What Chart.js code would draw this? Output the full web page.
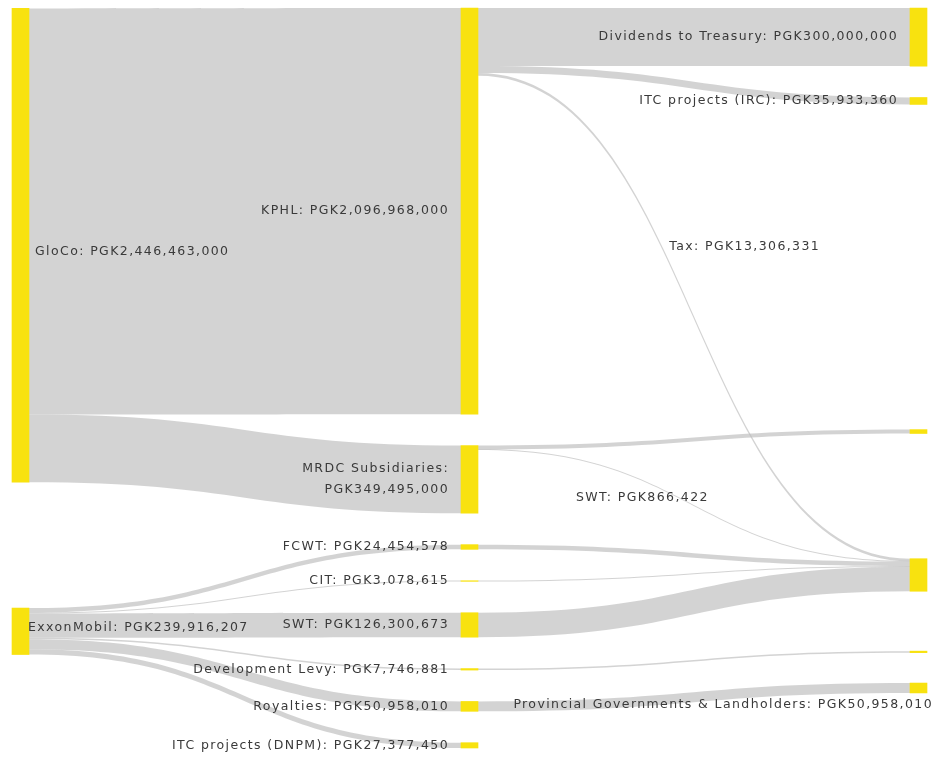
<!DOCTYPE html>
<html>
<head>
<meta charset="utf-8">
<script src="https://cdn.jsdelivr.net/npm/chart.js@4.4.1/dist/chart.umd.min.js"></script>
<style>
  html, body { margin: 0; background: #fff; }
  #wrap { width: 947px; height: 760px; }
</style>
</head>
<body>
<div id="wrap"><canvas id="sankey-chart"></canvas></div>
<script>
// nodes, in the order they are stacked inside each column
const nodeNames = [
  "GloCo", "ExxonMobil",
  "KPHL", "MRDC Subsidiaries", "FCWT", "CIT", "SWT", "Development Levy", "Royalties", "ITC projects (DNPM)",
  "Dividends to Treasury", "ITC projects (IRC)", "MRDC other", "IRC", "Development Levy recipients",
  "Provincial Governments & Landholders"
];
// nodes that carry no label in the picture
const unlabelled = ["MRDC other", "IRC", "Development Levy recipients"];

// flows (PGK)
const flowFrom = [
  "GloCo", "GloCo",
  "KPHL", "KPHL", "KPHL",
  "MRDC Subsidiaries", "MRDC Subsidiaries",
  "ExxonMobil", "ExxonMobil", "ExxonMobil", "ExxonMobil", "ExxonMobil", "ExxonMobil",
  "FCWT", "CIT", "SWT", "Development Levy", "Royalties"
];
const flowTo = [
  "KPHL", "MRDC Subsidiaries",
  "Dividends to Treasury", "ITC projects (IRC)", "IRC",
  "MRDC other", "IRC",
  "FCWT", "CIT", "SWT", "Development Levy", "Royalties", "ITC projects (DNPM)",
  "IRC", "IRC", "IRC", "Development Levy recipients", "Provincial Governments & Landholders"
];
const flowValues = [
  2096968000, 349495000,
  300000000, 35933360, 13306331,
  20000000, 866422,
  24454578, 3078615, 126300673, 7746881, 50958010, 27377450,
  24454578, 3078615, 126300673, 7746881, 50958010
];
// flows that carry their own label
const flowLabels = { 4: "Tax", 6: "SWT" };

const NODE_W = 17;
const NODE_PAD = 162e6;   // gap between nodes, in PGK units of the y scale
const NODE_COLOR = "#f8e20f";
const LINK_COLOR = "rgba(188,188,188,0.66)";
const TEXT_COLOR = "#3a3a3a";
const FONT = '12.5px "DejaVu Sans"';

// hand moves of some nodes after the automatic layout (PGK units, like the original's dragged nodes)
const nodeMoves = {
  "GloCo": -20e6,
  "ExxonMobil": -88e6,
  "IRC": 23e6,
  "Development Levy recipients": -88e6,
  "Provincial Governments & Landholders": -93e6
};

const money = v => "PGK" + v.toLocaleString("en-US");

// ---- sankey layout (same relaxation as d3-sankey, left aligned) ----
function sankeyLayout() {
  const nodes = nodeNames.map((name, index) => ({ name, index, sourceLinks: [], targetLinks: [], layer: 0 }));
  const byName = {};
  nodes.forEach(n => byName[n.name] = n);
  const links = flowValues.map((value, index) => ({
    index, value, source: byName[flowFrom[index]], target: byName[flowTo[index]]
  }));
  links.forEach(l => { l.source.sourceLinks.push(l); l.target.targetLinks.push(l); });
  const sum = arr => arr.reduce((a, b) => a + b.value, 0);
  nodes.forEach(n => n.value = Math.max(sum(n.sourceLinks), sum(n.targetLinks)));
  for (let k = 0; k < nodes.length; k++) {
    links.forEach(l => { l.target.layer = Math.max(l.target.layer, l.source.layer + 1); });
  }
  const columns = [];
  nodes.forEach(n => (columns[n.layer] = columns[n.layer] || []).push(n));

  const maxLen = Math.max(...columns.map(c => c.length));
  const y0 = 0;
  const y1 = Math.max(...columns.map(c => sum(c) + (c.length - 1) * NODE_PAD));
  const py = Math.min(NODE_PAD, (y1 - y0) / (maxLen - 1));

  const byBreadth = (a, b) => a.y0 - b.y0;
  const bySource = (a, b) => byBreadth(a.source, b.source) || a.index - b.index;
  const byTarget = (a, b) => byBreadth(a.target, b.target) || a.index - b.index;

  const ky = Math.min(...columns.map(c => (y1 - y0 - (c.length - 1) * py) / sum(c)));
  for (const col of columns) {
    let y = y0;
    for (const n of col) {
      n.y0 = y; n.y1 = y + n.value * ky; y = n.y1 + py;
      n.sourceLinks.forEach(l => l.width = l.value * ky);
    }
    y = (y1 - y + py) / (col.length + 1);
    col.forEach((n, i) => { n.y0 += y * (i + 1); n.y1 += y * (i + 1); });
    col.forEach(n => { n.sourceLinks.sort(byTarget); n.targetLinks.sort(bySource); });
  }

  function reorderNodeLinks(n) {
    n.targetLinks.forEach(l => l.source.sourceLinks.sort(byTarget));
    n.sourceLinks.forEach(l => l.target.targetLinks.sort(bySource));
  }
  function targetTop(s, t) {
    let y = s.y0 - (s.sourceLinks.length - 1) * py / 2;
    for (const l of s.sourceLinks) { if (l.target === t) break; y += l.width + py; }
    for (const l of t.targetLinks) { if (l.source === s) break; y -= l.width; }
    return y;
  }
  function sourceTop(s, t) {
    let y = t.y0 - (t.targetLinks.length - 1) * py / 2;
    for (const l of t.targetLinks) { if (l.source === s) break; y += l.width + py; }
    for (const l of s.sourceLinks) { if (l.target === t) break; y -= l.width; }
    return y;
  }
  function downFrom(col, y, i, alpha) {
    for (; i < col.length; ++i) {
      const n = col[i], dy = (y - n.y0) * alpha;
      if (dy > 1e-6) { n.y0 += dy; n.y1 += dy; }
      y = n.y1 + py;
    }
  }
  function upFrom(col, y, i, alpha) {
    for (; i >= 0; --i) {
      const n = col[i], dy = (n.y1 - y) * alpha;
      if (dy > 1e-6) { n.y0 -= dy; n.y1 -= dy; }
      y = n.y0 - py;
    }
  }
  function resolveCollisions(col, alpha) {
    const i = col.length >> 1, mid = col[i];
    upFrom(col, mid.y0 - py, i - 1, alpha);
    downFrom(col, mid.y1 + py, i + 1, alpha);
    upFrom(col, y1, col.length - 1, alpha);
    downFrom(col, y0, 0, alpha);
  }

  const iterations = 6;
  for (let it = 0; it < iterations; it++) {
    const alpha = Math.pow(0.99, it);
    const beta = Math.max(1 - alpha, (it + 1) / iterations);
    for (let c = columns.length - 2; c >= 0; c--) {
      for (const s of columns[c]) {
        let y = 0, w = 0;
        for (const l of s.sourceLinks) {
          const v = l.value * (l.target.layer - s.layer);
          y += sourceTop(s, l.target) * v; w += v;
        }
        if (!(w > 0)) continue;
        const dy = (y / w - s.y0) * alpha;
        s.y0 += dy; s.y1 += dy;
        reorderNodeLinks(s);
      }
      columns[c].sort(byBreadth);
      resolveCollisions(columns[c], beta);
    }
    for (let c = 1; c < columns.length; c++) {
      for (const t of columns[c]) {
        let y = 0, w = 0;
        for (const l of t.targetLinks) {
          const v = l.value * (t.layer - l.source.layer);
          y += targetTop(l.source, t) * v; w += v;
        }
        if (!(w > 0)) continue;
        const dy = (y / w - t.y0) * alpha;
        t.y0 += dy; t.y1 += dy;
        reorderNodeLinks(t);
      }
      columns[c].sort(byBreadth);
      resolveCollisions(columns[c], beta);
    }
  }

  for (const n of nodes) {
    const m = nodeMoves[n.name] || 0;
    n.y0 += m; n.y1 += m;
  }
  for (const n of nodes) {
    let a = n.y0, b = n.y0;
    for (const l of n.sourceLinks) { l.sy0 = a; a += l.width; l.sy1 = a; }
    for (const l of n.targetLinks) { l.ty0 = b; b += l.width; l.ty1 = b; }
  }
  return { nodes, links, y0, y1, columns: columns.length };
}

const graph = sankeyLayout();

// flows drawn under the node bars
const sankeyLinks = {
  id: "sankeyLinks",
  beforeDatasetsDraw(chart) {
    const { ctx, scales: { x, y } } = chart;
    ctx.save();
    ctx.fillStyle = LINK_COLOR;
    for (const l of graph.links) {
      const sx = x.getPixelForValue(l.source.layer) + NODE_W / 2;
      const tx = x.getPixelForValue(l.target.layer) - NODE_W / 2;
      const mx = (sx + tx) / 2;
      let s0 = y.getPixelForValue(l.sy0), s1 = y.getPixelForValue(l.sy1);
      let t0 = y.getPixelForValue(l.ty0), t1 = y.getPixelForValue(l.ty1);
      if (s1 - s0 < 1) { const c = (s0 + s1) / 2; s0 = c - 0.5; s1 = c + 0.5; }
      if (t1 - t0 < 1) { const c = (t0 + t1) / 2; t0 = c - 0.5; t1 = c + 0.5; }
      ctx.beginPath();
      ctx.moveTo(sx, s0);
      ctx.bezierCurveTo(mx, s0, mx, t0, tx, t0);
      ctx.lineTo(tx, t1);
      ctx.bezierCurveTo(mx, t1, mx, s1, sx, s1);
      ctx.closePath();
      ctx.fill();
    }
    ctx.restore();
  }
};

// label tweaks: [dx, dy] shifts, wrapped labels, flow label spots
const labelShift = {
  "Provincial Governments & Landholders": [35, 17],
  "GloCo": [0, 6],
  "ExxonMobil": [-7, -4]
};
const labelWrap = ["MRDC Subsidiaries"];
const flowLabelSpot = { 4: { t: 0.4, dx: 8, dy: 1 }, 6: { t: 0.5, dx: -118, dy: -8 } };

const sankeyLabels = {
  id: "sankeyLabels",
  afterDatasetsDraw(chart) {
    const { ctx, scales: { x, y } } = chart;
    ctx.save();
    ctx.font = FONT;
    ctx.letterSpacing = "1.4px";
    ctx.fillStyle = TEXT_COLOR;
    ctx.textBaseline = "middle";
    for (const n of graph.nodes) {
      if (unlabelled.includes(n.name)) continue;
      const cx = x.getPixelForValue(n.layer);
      let cy = (y.getPixelForValue(n.y0) + y.getPixelForValue(n.y1)) / 2;
      let lx;
      if (n.layer === 0) { ctx.textAlign = "left"; lx = cx + NODE_W / 2 + 6; }
      else { ctx.textAlign = "right"; lx = cx - NODE_W / 2 - 12; }
      const shift = labelShift[n.name] || [0, 0];
      lx += shift[0]; cy += shift[1];
      const lines = labelWrap.includes(n.name)
        ? [n.name + ":", money(n.value)]
        : [n.name + ": " + money(n.value)];
      lines.forEach((txt, i) => ctx.fillText(txt, lx, cy + (i - (lines.length - 1) / 2) * 21));
    }
    ctx.textAlign = "left";
    for (const idx in flowLabels) {
      const l = graph.links[idx];
      const spot = flowLabelSpot[idx];
      const sx = x.getPixelForValue(l.source.layer) + NODE_W / 2;
      const tx = x.getPixelForValue(l.target.layer) - NODE_W / 2;
      const sy = y.getPixelForValue((l.sy0 + l.sy1) / 2);
      const ty = y.getPixelForValue((l.ty0 + l.ty1) / 2);
      const t = spot.t, u = 1 - t;
      const mx = (sx + tx) / 2;
      const px = u * u * u * sx + 3 * u * u * t * mx + 3 * u * t * t * mx + t * t * t * tx;
      const pyv = sy + (ty - sy) * t * t * (3 - 2 * t);
      ctx.fillText(flowLabels[idx] + ": " + money(l.value), px + spot.dx, pyv + spot.dy);
    }
    ctx.restore();
  }
};

new Chart(document.getElementById("sankey-chart"), {
  type: "bar",
  data: {
    datasets: [{
      data: graph.nodes.map(n => ({ x: n.layer, y: [n.y0, n.y1] })),
      backgroundColor: NODE_COLOR,
      borderWidth: 0,
      borderSkipped: false,
      barThickness: NODE_W,
      grouped: false,
      clip: false
    }]
  },
  options: {
    responsive: true,
    maintainAspectRatio: false,
    animation: false,
    layout: { padding: { left: 20.5, right: 28.5, top: 8, bottom: 12 } },
    scales: {
      x: { type: "linear", min: 0, max: graph.columns - 1, offset: false, display: false },
      y: { type: "linear", min: graph.y0, max: graph.y1, reverse: true, display: false }
    },
    plugins: {
      legend: { display: false },
      tooltip: { enabled: false }
    }
  },
  plugins: [sankeyLinks, sankeyLabels]
});
</script>
</body>
</html>
